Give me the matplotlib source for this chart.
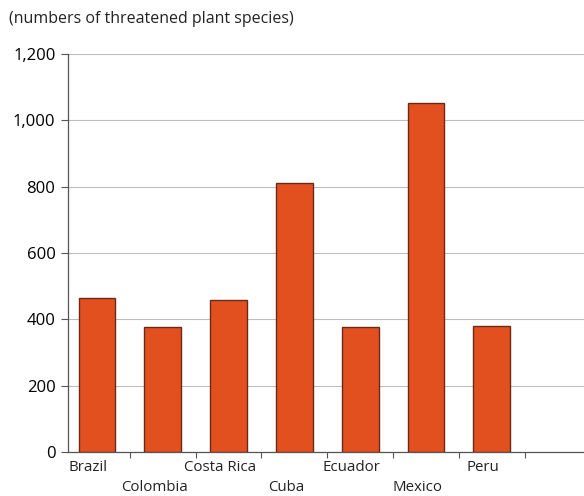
import matplotlib.pyplot as plt
from matplotlib.ticker import FuncFormatter, MultipleLocator
import matplotlib.transforms as mtransforms

plt.rcParams["font.family"] = ["Open Sans", "DejaVu Sans"]

# Threatened plant species by country
countries = ["Brazil", "Colombia", "Costa Rica", "Cuba", "Ecuador", "Mexico", "Peru"]
species = [465, 377, 458, 812, 377, 1051, 380]

BAR_COLOR = "#E2501F"
EDGE_COLOR = "#6B2A17"
GRID_COLOR = "#BDBDBD"
AXIS_COLOR = "#555555"

fig = plt.figure(figsize=(5.84, 4.96), dpi=100)
ax = fig.add_axes([0.1164, 0.0887, 0.8836, 0.8024])

x = list(range(len(countries)))
ax.bar(x, species, width=0.56, color=BAR_COLOR, edgecolor=EDGE_COLOR,
       linewidth=1.0, zorder=3)

ax.set_xlim(-0.44, 7.4)
ax.set_ylim(0, 1200)
ax.yaxis.set_major_locator(MultipleLocator(200))
ax.yaxis.set_major_formatter(FuncFormatter(lambda v, _: f"{int(v):,}"))
ax.grid(axis="y", color=GRID_COLOR, linewidth=0.8, zorder=0)

# Ticks between categories on the x axis, names staggered in two rows
ax.set_xticks([i + 0.5 for i in range(len(countries))])
ax.set_xticklabels([])
ax.tick_params(axis="x", direction="out", length=4, width=0.8, color=AXIS_COLOR)
ax.tick_params(axis="y", direction="out", length=5, width=0.8, color=AXIS_COLOR,
               labelsize=12, pad=4)

trans = mtransforms.blended_transform_factory(ax.transData, ax.transAxes)
for i, name in enumerate(countries):
    offset = -15 if i % 2 == 0 else -35
    ax.annotate(name, xy=(i - 0.13, 0), xycoords=trans,
                xytext=(0, offset), textcoords="offset pixels",
                ha="center", va="center", fontsize=10.8, color="#222222")

for side in ("top", "right"):
    ax.spines[side].set_visible(False)
for side in ("left", "bottom"):
    ax.spines[side].set_color(AXIS_COLOR)
    ax.spines[side].set_linewidth(0.9)

fig.text(0.016, 0.962, "(numbers of threatened plant species)", fontsize=11.5,
         ha="left", va="center", color="#222222")

fig.savefig("out.png", dpi=100, facecolor="white")
